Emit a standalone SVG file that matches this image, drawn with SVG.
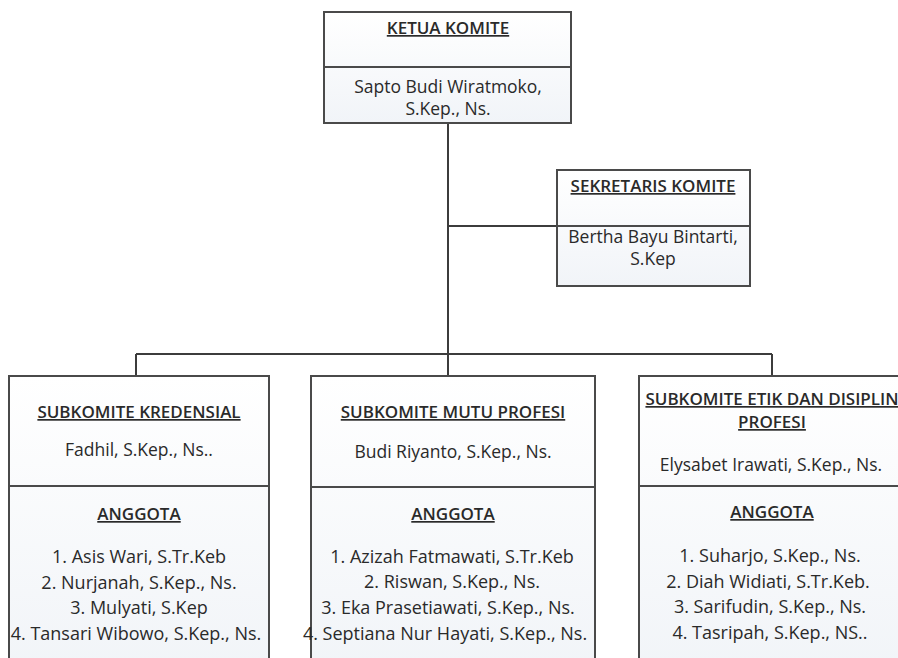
<svg xmlns="http://www.w3.org/2000/svg" width="898" height="658" viewBox="0 0 898 658">
<defs>
<linearGradient id="bg" x1="0" y1="0" x2="0" y2="1">
<stop offset="0" stop-color="#ffffff"/>
<stop offset="1" stop-color="#f1f4f8"/>
</linearGradient>
</defs>
<style>
.box{fill:url(#bg);stroke:#4a4a4a;stroke-width:2}
.div{stroke:#4a4a4a;stroke-width:2;fill:none}
.conn{stroke:#3c3c3c;stroke-width:2;fill:none}
.t{font-family:"Open Sans","Liberation Sans",sans-serif;font-size:17px;font-weight:600;fill:#2a2a2a;text-anchor:middle;text-decoration:underline}
.n{font-family:"Open Sans","Liberation Sans",sans-serif;font-size:17.5px;fill:#2a2a2a;text-anchor:middle}
.m{font-family:"Open Sans","Liberation Sans",sans-serif;font-size:18px;fill:#2a2a2a;text-anchor:middle}
</style>
<rect width="898" height="658" fill="#ffffff"/>
<g id="connectors">
<path class="conn" d="M448 123V354"/>
<path class="conn" d="M448 226H557"/>
<path class="conn" d="M136 354H772"/>
<path class="conn" d="M136 354V376"/>
<path class="conn" d="M448 354V376"/>
<path class="conn" d="M772 354V376"/>
</g>
<g id="ketua">
<rect class="box" x="324" y="12" width="247" height="111"/>
<path class="div" d="M324 67H571"/>
<text class="t" x="448" y="34">KETUA KOMITE</text>
<text class="n" x="448" y="93">Sapto Budi Wiratmoko,</text>
<text class="n" x="448" y="115">S.Kep., Ns.</text>
</g>
<g id="sekretaris">
<rect class="box" x="557" y="170" width="193" height="116"/>
<path class="div" d="M557 226H750"/>
<text class="t" x="653" y="192">SEKRETARIS KOMITE</text>
<text class="n" x="653" y="243">Bertha Bayu Bintarti,</text>
<text class="n" x="653" y="265">S.Kep</text>
</g>
<g id="kredensial">
<rect class="box" x="9" y="376" width="260" height="300"/>
<path class="div" d="M9 486H269"/>
<text class="t" x="139" y="418">SUBKOMITE KREDENSIAL</text>
<text class="n" x="139" y="456">Fadhil, S.Kep., Ns..</text>
<text class="t" x="139" y="520">ANGGOTA</text>
<text class="m" x="139" y="563">1. Asis Wari, S.Tr.Keb</text>
<text class="m" x="139" y="589">2. Nurjanah, S.Kep., Ns.</text>
<text class="m" x="139" y="614">3. Mulyati, S.Kep</text>
<text class="m" x="136" y="640">4. Tansari Wibowo, S.Kep., Ns.</text>
</g>
<g id="mutu">
<rect class="box" x="311" y="376" width="284" height="300"/>
<path class="div" d="M311 487H595"/>
<text class="t" x="453" y="418">SUBKOMITE MUTU PROFESI</text>
<text class="n" x="453" y="458">Budi Riyanto, S.Kep., Ns.</text>
<text class="t" x="453" y="520">ANGGOTA</text>
<text class="m" x="452" y="563">1. Azizah Fatmawati, S.Tr.Keb</text>
<text class="m" x="452" y="588">2. Riswan, S.Kep., Ns.</text>
<text class="m" x="448" y="614">3. Eka Prasetiawati, S.Kep., Ns.</text>
<text class="m" x="445" y="640">4. Septiana Nur Hayati, S.Kep., Ns.</text>
</g>
<g id="etik">
<rect class="box" x="639" y="376" width="266" height="300"/>
<path class="div" d="M639 486H905"/>
<text class="t" x="772" y="405">SUBKOMITE ETIK DAN DISIPLIN</text>
<text class="t" x="772" y="428">PROFESI</text>
<text class="n" x="771" y="471">Elysabet Irawati, S.Kep., Ns.</text>
<text class="t" x="772" y="518">ANGGOTA</text>
<text class="m" x="770" y="562">1. Suharjo, S.Kep., Ns.</text>
<text class="m" x="768" y="588">2. Diah Widiati, S.Tr.Keb.</text>
<text class="m" x="770" y="613">3. Sarifudin, S.Kep., Ns.</text>
<text class="m" x="770" y="639">4. Tasripah, S.Kep., NS..</text>
</g>
</svg>
